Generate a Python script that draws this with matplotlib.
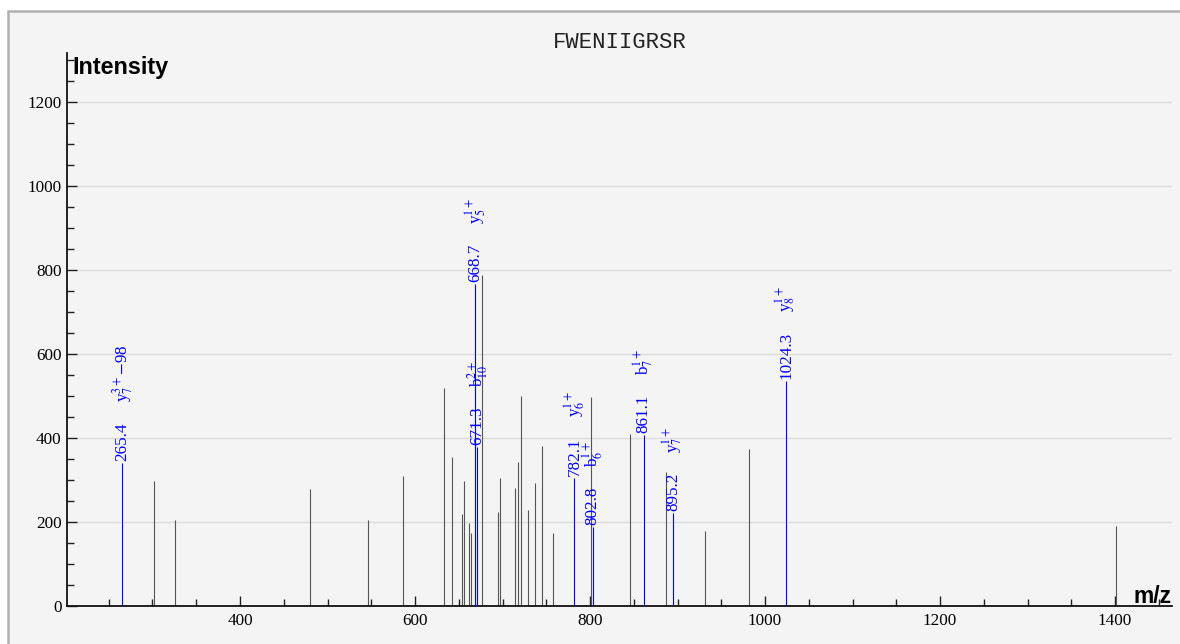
import numpy as np
import matplotlib.pyplot as plt
from matplotlib.patches import Rectangle
from matplotlib.ticker import MultipleLocator

plt.rcParams['font.family'] = 'Liberation Serif'
plt.rcParams['mathtext.fontset'] = 'stix'

# unassigned peaks (m/z, intensity)
peak_mz = [301.3, 325.3, 479.6, 546.7, 586.0, 633.5, 642.5, 654.1, 656.4, 662.1,
           663.6, 676.2, 694.9, 696.8, 714.7, 717.4, 721.5, 728.8, 736.8, 745.1,
           757.7, 801.1, 846.1, 886.3, 931.8, 982.1, 1401.3]
peak_int = [298, 206, 278, 204, 309, 518, 356, 219, 297, 198,
            175, 789, 225, 304, 281, 344, 499, 229, 294, 381,
            175, 498, 409, 318, 178, 374, 190]

# assigned fragment ions
ann_mz = [265.4, 668.7, 671.3, 782.1, 802.8, 861.1, 895.2, 1024.3]
ann_int = [341, 767, 378, 306, 187, 407, 221, 536]
ann_ion = [r'y$_{7}^{3+}$$-$98', r'y$_{5}^{1+}$', r'b$_{10}^{2+}$', r'y$_{6}^{1+}$',
           r'b$_{6}^{1+}$', r'b$_{7}^{1+}$', r'y$_{7}^{1+}$', r'y$_{8}^{1+}$']

peptide = 'FWENIIGRSR'

W, H = 1180, 644
fig = plt.figure(figsize=(W / 100, H / 100), dpi=100)
fig.patch.set_facecolor('white')
fig.add_artist(Rectangle((8 / W, -0.05), 1.1, 1 - 11 / H + 0.05,
                         transform=fig.transFigure, facecolor='#f4f4f4',
                         edgecolor='#b0b0b0', lw=1.8, zorder=0))

ax = fig.add_axes([67 / W, 38 / H, 1105 / W, 553 / H])
ax.set_facecolor('none')
ax.set_xlim(202.3, 1465)
ax.set_ylim(0, 1317)

ax.vlines(peak_mz, 0, peak_int, colors='#555555', lw=0.8, zorder=2)
ax.vlines(ann_mz, 0, ann_int, colors='#0000ff', lw=0.8, zorder=3)

for mz, h, ion in zip(ann_mz, ann_int, ann_ion):
    t = ax.annotate(f'{mz:.1f}', xy=(mz, h), xytext=(0, 2), textcoords='offset pixels',
                    rotation=90, ha='center', va='bottom', color='#0000ff', fontsize=12.3)
    ax.annotate(ion, xy=(0.5, 1), xycoords=t, xytext=(0, 20), textcoords='offset pixels',
                rotation=90, ha='center', va='bottom', color='#0000ff', fontsize=12.3)

ax.xaxis.set_major_locator(MultipleLocator(200))
ax.xaxis.set_minor_locator(MultipleLocator(50))
ax.yaxis.set_major_locator(MultipleLocator(200))
ax.yaxis.set_minor_locator(MultipleLocator(50))
ax.tick_params(which='major', direction='in', length=7.5, width=1, colors='#222222',
               labelsize=12.3, labelcolor='black')
ax.tick_params(axis='y', which='major', pad=4)
ax.tick_params(axis='x', which='major', pad=5)
ax.tick_params(which='minor', direction='in', length=4.8, width=1, colors='#222222')

ax.yaxis.grid(True, which='major', color='#dcdcdc', lw=1)
ax.set_axisbelow(True)
for s in ['top', 'right']:
    ax.spines[s].set_visible(False)
for s in ['left', 'bottom']:
    ax.spines[s].set_linewidth(1.3)
    ax.spines[s].set_color('#111111')

fig.text(620 / W, 1 - 42 / H, peptide, ha='center', va='center',
         family='Liberation Mono', fontsize=16, color='#222222')
fig.text(72 / W, 1 - 56 / H, 'Intensity', ha='left', va='top',
         family='Liberation Sans', fontweight='bold', fontsize=16.8)
fig.text(1172 / W, 1 - 603 / H, 'm/z', ha='right', va='baseline',
         family='Liberation Sans', fontweight='bold', fontsize=16.5)

fig.savefig('out.png', dpi=100)
